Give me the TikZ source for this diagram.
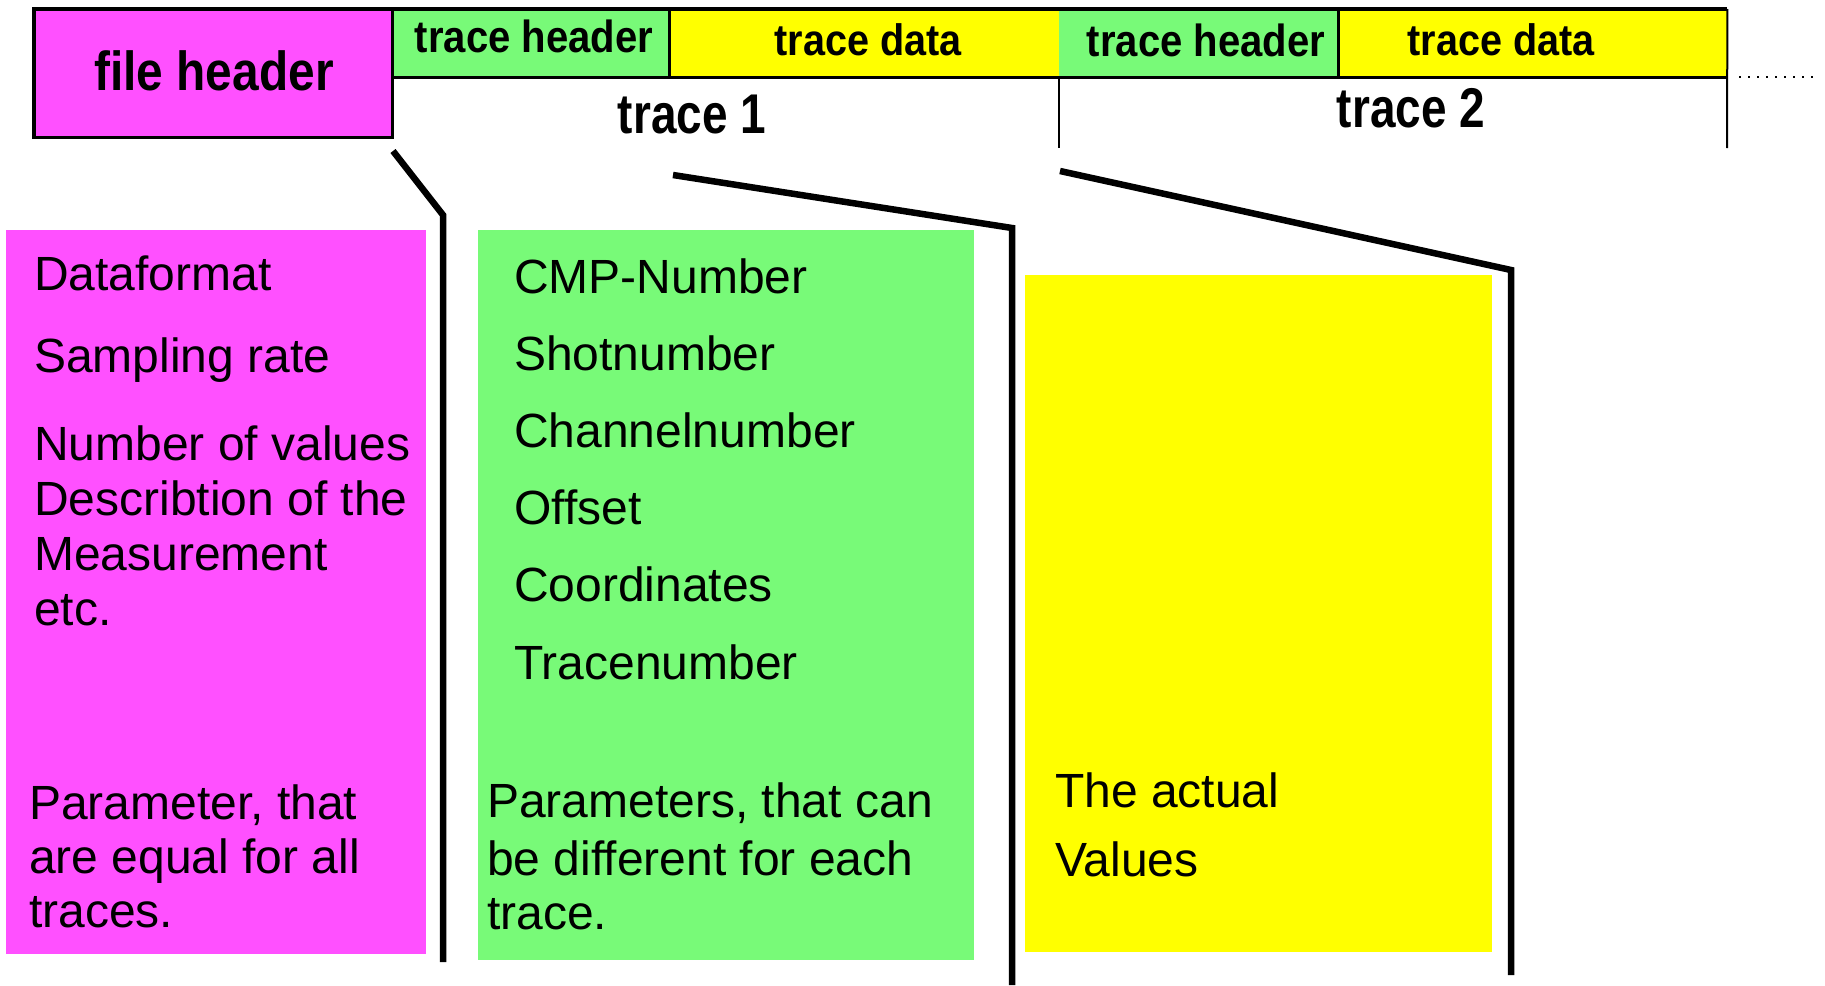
\documentclass[tikz,border=0pt]{standalone}
\usepackage{fontspec}
\setmainfont{Liberation Sans}
\definecolor{mag}{RGB}{255,80,255}
\definecolor{grn}{RGB}{120,250,120}
\definecolor{yel}{RGB}{255,255,0}
\tikzset{
  lbl/.style={anchor=base west, inner sep=0pt, font=\fontsize{48}{56}\selectfont},
  hdr/.style={anchor=base, inner sep=0pt},
  fan/.style={line width=6.5pt, line join=miter},
  box/.style={draw=none, inner sep=0pt, anchor=north west},
  edge/.style={line width=3.5pt},
  thin/.style={line width=2pt},
}
\newcommand{\hb}[3]{\scalebox{#2}[1]{\bfseries\fontsize{#1}{#1}\selectfont #3}}
\begin{document}
\begin{tikzpicture}[x=1pt,y=-1pt]
\useasboundingbox (0,0) rectangle (1825,985);
% ---------- top strip ----------
\node[box, fill=mag, minimum width=358pt, minimum height=128pt] (fh) at (34,9) {};
\node[box, fill=grn, minimum width=277pt, minimum height=68pt] (th1) at (392,9) {};
\node[box, fill=yel, minimum width=390pt, minimum height=68pt] (td1) at (669,9) {};
\node[box, fill=grn, minimum width=279pt, minimum height=68pt] (th2) at (1059,9) {};
\node[box, fill=yel, minimum width=389pt, minimum height=68pt] (td2) at (1338,9) {};
\draw[edge] (fh.north west) rectangle (fh.south east);
\draw[edge] (th1.north west) -- (td2.north east);
\draw[edge] (th1.south west) -- (td2.south east);
\draw[edge] (th1.north east) -- (th1.south east);
\draw[edge] (th2.north east) -- (th2.south east);
\coordinate (t2a) at (1059,148);
\coordinate (ende) at (1727,148);
\draw[thin] (th2.south west) -- (t2a);
\draw[thin] (td2.north east) -- (ende);
\coordinate (dotA) at (1739,77);
\coordinate (dotB) at (1816,77);
\draw[line width=2.2pt, dash pattern=on 2pt off 7pt] (dotA) -- (dotB);

\node[hdr] (fht) at (214,90) {\hb{55}{0.87}{file header}};
\node[hdr] (th1t) at (534,52) {\hb{45}{0.89}{trace header}};
\node[hdr] (td1t) at (868,55) {\hb{44}{0.9}{trace data}};
\node[hdr] (th2t) at (1206,56) {\hb{45}{0.89}{trace header}};
\node[hdr] (td2t) at (1501,55) {\hb{44}{0.9}{trace data}};
\node[hdr] (tr1) at (692,133) {\hb{56}{0.82}{trace 1}};
\node[hdr] (tr2) at (1411,127) {\hb{56}{0.82}{trace 2}};

% ---------- lower boxes ----------
\node[box, fill=mag, minimum width=420pt, minimum height=724pt] (mb) at (6,230) {};
\node[box, fill=grn, minimum width=496pt, minimum height=730pt] (gb) at (478,230) {};
\node[box, fill=yel, minimum width=467pt, minimum height=677pt] (yb) at (1025,275) {};

% ---------- fan lines ----------
\coordinate (a1) at (393,151); \coordinate (b1) at (443,215); \coordinate (c1) at (443,962);
\coordinate (a2) at (673,175); \coordinate (b2) at (1012,228); \coordinate (c2) at (1012,985);
\coordinate (a3) at (1060,171); \coordinate (b3) at (1511,270); \coordinate (c3) at (1511,975);
\draw[fan] (a1) -- (b1) -- (c1);
\draw[fan] (a2) -- (b2) -- (c2);
\draw[fan] (a3) -- (b3) -- (c3);

% ---------- texts ----------
\node[lbl] (m1) at (34,290) {Dataformat};
\node[lbl] (m2) at (34,372) {Sampling rate};
\node[lbl] (m3) at (34,460) {Number of values};
\node[lbl] (m4) at (34,515) {Describtion of the};
\node[lbl] (m5) at (34,570) {Measurement};
\node[lbl] (m6) at (34,625) {etc.};
\node[lbl] (m7) at (29,819) {Parameter, that};
\node[lbl] (m8) at (29,873) {are equal for all};
\node[lbl] (m9) at (29,927) {traces.};

\node[lbl] (g1) at (514,293) {CMP-Number};
\node[lbl] (g2) at (514,370) {Shotnumber};
\node[lbl] (g3) at (514,447) {Channelnumber};
\node[lbl] (g4) at (514,524) {Offset};
\node[lbl] (g5) at (514,601) {Coordinates};
\node[lbl] (g6) at (514,679) {Tracenumber};
\node[lbl] (g7) at (487,817) {Parameters, that can};
\node[lbl] (g8) at (487,875) {be different for each};
\node[lbl] (g9) at (487,929) {trace.};

\node[lbl] (y1) at (1055,807) {The actual};
\node[lbl] (y2) at (1055,876) {Values};
\end{tikzpicture}
\end{document}
